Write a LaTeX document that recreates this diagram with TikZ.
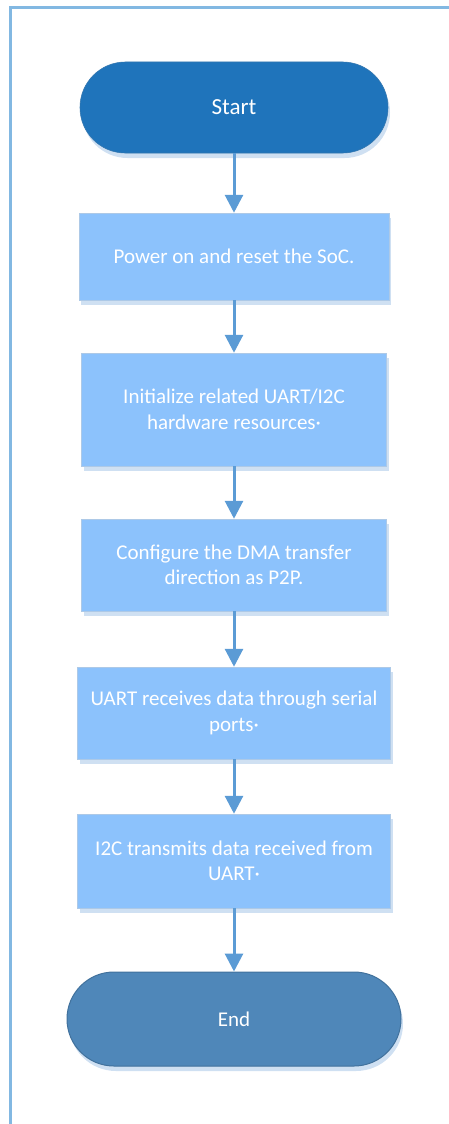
\documentclass[tikz,border=0pt]{standalone}
\usepackage{fontspec}
\setmainfont{Carlito}
\usetikzlibrary{arrows.meta,shadows}
\definecolor{startfill}{HTML}{1F74BB}
\definecolor{boxfill}{HTML}{8CC2FC}
\definecolor{endfill}{HTML}{4F87B9}
\definecolor{endline}{HTML}{41719C}
\definecolor{arrowcol}{HTML}{5B9BD5}
\definecolor{framecol}{HTML}{82B8E2}
\definecolor{shadowcol}{HTML}{CFE0F2}
\tikzset{
  shad/.style={drop shadow={shadow xshift=2pt, shadow yshift=-5pt, fill=shadowcol, opacity=1}},
  stepbox/.style={rectangle, fill=boxfill, draw=boxfill!85!black!60!white, line width=0.5pt, text=white,
    align=center, font=\fontsize{21}{25.5}\selectfont, inner sep=0pt, shad},
  term/.style={rectangle, text=white, align=center, inner sep=0pt, shad},
  conn/.style={draw=arrowcol, line width=3pt, -{Triangle[width=18pt,length=18pt]}},
}
\begin{document}
\begin{tikzpicture}[x=1pt,y=-1pt]
\useasboundingbox (0,0) rectangle (449,1124);
\draw[framecol, line width=3pt] (10.5,1124) -- (10.5,8) -- (449,8);

\node[term, fill=startfill, draw=startfill!80!gray, line width=0.6pt, rounded corners=45.5pt,
  minimum width=308pt, minimum height=91pt, font=\fontsize{23}{27}\selectfont] (start) at (234,107.5) {Start};
\node[stepbox, minimum width=310pt, minimum height=87pt] (b1) at (234,256.5) {Power on and reset the SoC.};
\node[stepbox, minimum width=305pt, minimum height=113pt] (b2) at (234,409.5) {Initialize related UART/I2C\\hardware resources·};
\node[stepbox, minimum width=305pt, minimum height=92pt] (b3) at (234,565) {Configure the DMA transfer\\direction as P2P.};
\node[stepbox, minimum width=313pt, minimum height=92pt] (b4) at (234,713) {UART receives data through serial\\ports·};
\node[stepbox, minimum width=313pt, minimum height=94pt] (b5) at (234,861) {I2C transmits data received from\\UART·};
\node[term, fill=endfill, draw=endline, line width=1pt, rounded corners=47pt,
  minimum width=334pt, minimum height=94pt, font=\fontsize{21}{25}\selectfont] (end) at (234,1019) {End};

\draw[conn] (start.south) -- (b1.north);
\draw[conn] (b1.south) -- (b2.north);
\draw[conn] (b2.south) -- (b3.north);
\draw[conn] (b3.south) -- (b4.north);
\draw[conn] (b4.south) -- (b5.north);
\draw[conn] (b5.south) -- (end.north);
\end{tikzpicture}
\end{document}
